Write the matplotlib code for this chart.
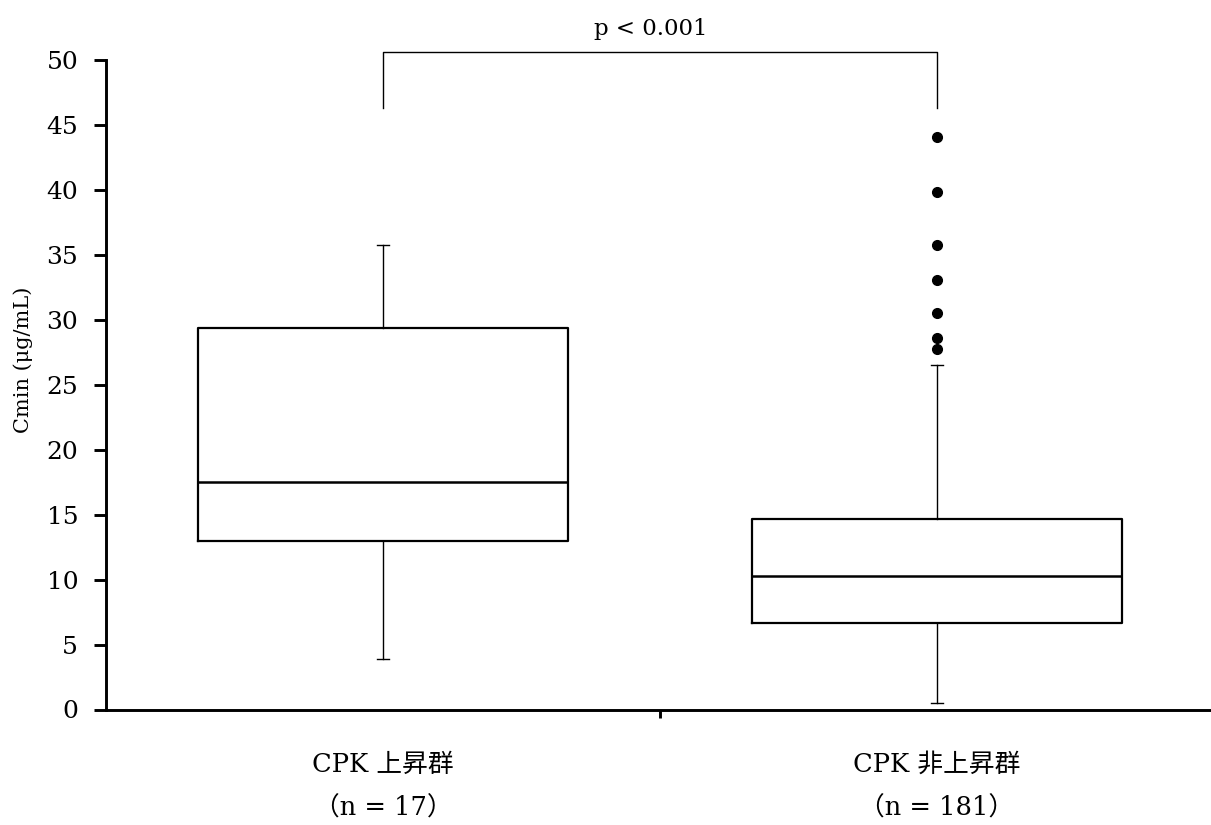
import matplotlib
matplotlib.use("Agg")
import matplotlib.pyplot as plt

# Summary statistics of Cmin (µg/mL) for each group
groups = ["CPK 上昇群", "CPK 非上昇群"]
n_counts = [17, 181]
medians = [17.52, 10.29]
q1s = [13.0, 6.68]
q3s = [29.4, 14.7]
whisker_lo = [3.88, 0.47]
whisker_hi = [35.78, 26.55]
outliers = [[], [44.06, 39.83, 35.75, 33.06, 30.55, 28.63, 27.75]]
p_text = "p < 0.001"
y_ticks = list(range(0, 51, 5))

plt.rcParams["font.family"] = ["DejaVu Serif", "Noto Sans CJK JP"]

fig = plt.figure(figsize=(12.11, 8.25), dpi=100)
ax = fig.add_axes([106 / 1211, (825 - 709.5) / 825, 1 - 106 / 1211, 649.5 / 825])

positions = [0.5, 1.5]
stats = []
for i, g in enumerate(groups):
    stats.append(dict(label=g, med=medians[i], q1=q1s[i], q3=q3s[i],
                      whislo=whisker_lo[i], whishi=whisker_hi[i],
                      fliers=outliers[i]))

ax.bxp(stats, positions=positions, widths=0.668, capwidths=0.022,
       showfliers=True, patch_artist=False, manage_ticks=False,
       boxprops=dict(color="black", linewidth=1.6),
       medianprops=dict(color="black", linewidth=1.8),
       whiskerprops=dict(color="black", linewidth=1.0),
       capprops=dict(color="black", linewidth=1.0),
       flierprops=dict(marker="o", markerfacecolor="black",
                       markeredgecolor="black", markersize=7, linestyle="none"))

ax.set_xlim(0, 1.995)
ax.set_ylim(0, 50)
ax.set_yticks(y_ticks)
ax.set_yticklabels([str(t) for t in y_ticks], fontsize=18)
ax.set_xticks([1.0])
ax.set_xticklabels([""])

for side in ("top", "right"):
    ax.spines[side].set_visible(False)
ax.spines["left"].set_linewidth(2.1)
ax.spines["bottom"].set_linewidth(2.1)
ax.tick_params(axis="y", direction="out", length=9, width=2.1, pad=11)
ax.tick_params(axis="x", direction="out", length=6, width=2.1)

ax.set_ylabel("Cmin (μg/mL)", fontsize=15)
ax.yaxis.set_label_coords(-0.066, 0.538)

# Group names and sample sizes under the axis
for x, g, n in zip(positions, groups, n_counts):
    ax.text(x, -4.2, g, ha="center", va="center", fontsize=18.5,
            clip_on=False)
    ax.text(x, -7.6, f"（n = {n}）", ha="center", va="center", fontsize=18.5,
            clip_on=False)

# Significance bracket
br_top = 50.6
br_bot = 46.3
ax.plot([positions[0], positions[0], positions[1], positions[1]],
        [br_bot, br_top, br_top, br_bot], color="black", linewidth=1.0,
        clip_on=False)
ax.text(0.984, 52.4, p_text, ha="center", va="center", fontsize=16.5,
        clip_on=False)

fig.savefig("out.png", dpi=100)
